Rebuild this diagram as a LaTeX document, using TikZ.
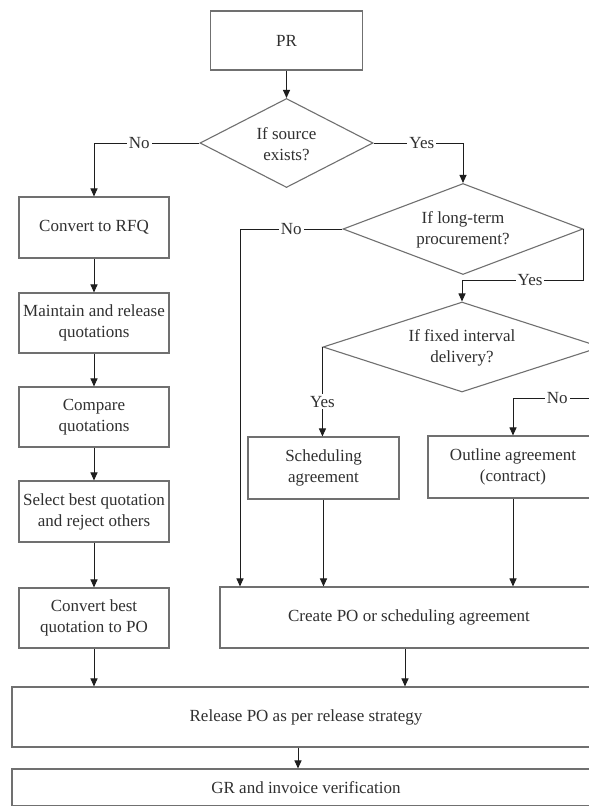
\documentclass[tikz,border=0pt]{standalone}
\usepackage{fontspec}
\setmainfont{Liberation Serif}
\usetikzlibrary{shapes.geometric,arrows.meta}
\definecolor{boxc}{HTML}{707070}
\definecolor{txtc}{HTML}{303030}
\definecolor{linec}{HTML}{1E1E1E}
\tikzset{
  box/.style={draw=boxc, line width=1.1pt, rectangle, inner sep=0pt, align=center, text=txtc,
    font=\fontsize{17}{21}\selectfont},
  dia/.style={draw=boxc, line width=1.1pt, diamond, inner sep=0pt},
  diatext/.style={align=center, text=txtc, font=\fontsize{17}{21}\selectfont, inner sep=0pt},
  arr/.style={draw=linec, line width=1pt, -{Triangle[length=8pt,width=7pt]}},
  lbl/.style={fill=white, text=txtc, inner sep=2pt, font=\fontsize{17}{21}\selectfont}
}
\begin{document}
\begin{tikzpicture}[x=1pt,y=-1pt]
\useasboundingbox (0,0) rectangle (589,806);
\fill[white] (0,0) rectangle (589,806);
% nodes
\node[box, minimum width=152pt, minimum height=59pt] (pr) at (286.5,40.5) {PR};
\node[dia, minimum width=173pt, minimum height=89pt] (d1) at (286.5,143) {};
\node[diatext] (d1t) at (286.5,144) {If source\\exists?};
\node[box, minimum width=150pt, minimum height=61pt] (rfq) at (94,227.5) {Convert to RFQ};
\node[box, minimum width=150pt, minimum height=60pt] (mt) at (94,323) {Maintain and release\\quotations};
\node[box, minimum width=150pt, minimum height=60pt] (cq) at (94,417) {Compare\\quotations};
\node[box, minimum width=150pt, minimum height=61pt] (sb) at (94,511.5) {Select best quotation\\and reject others};
\node[box, minimum width=150pt, minimum height=60pt] (cb) at (94,618) {Convert best\\quotation to PO};
\node[dia, minimum width=240pt, minimum height=91pt] (d2) at (463,229) {};
\node[diatext] (d2t) at (463,230) {If long-term\\procurement?};
\node[dia, minimum width=278pt, minimum height=90pt] (d3) at (462,347) {};
\node[diatext] (d3t) at (462,348) {If fixed interval\\delivery?};
\node[box, minimum width=151pt, minimum height=62pt] (sa) at (323.5,468) {Scheduling\\agreement};
\node[box, minimum width=170pt, minimum height=62pt] (oa) at (513,467) {Outline agreement\\(contract)};
\node[box, minimum width=378pt, minimum height=61pt] (cpo) at (409,617.5) {Create PO or scheduling agreement};
\node[box, minimum width=588pt, minimum height=60pt] (rel) at (306,717) {Release PO as per release strategy};
\node[box, minimum width=588pt, minimum height=37pt] (gr) at (306,787.5) {GR and invoice verification};
% helper coordinates
\coordinate (xno2) at (240,0);
\coordinate (yyes2) at (0,280);
\coordinate (yno3) at (0,398);
\coordinate (xgr) at (298,0);
\coordinate (xcpo) at (405,0);
% connectors
\draw[arr] (pr.south) -- (d1.north);
\draw[arr] (d1.west) -- node[lbl, pos=0.57] {No} (d1.west -| rfq.north) -- (rfq.north);
\draw[arr] (d1.east) -- node[lbl, pos=0.54] {Yes} (d1.east -| d2.north) -- (d2.north);
\draw[arr] (d2.west) -- node[lbl] {No} (d2.west -| xno2) -- (cpo.north -| xno2);
\draw[arr] (d2.east) -- (d2.east |- yyes2) -- node[lbl, pos=0.44] {Yes} (d3.north |- yyes2) -- (d3.north);
\draw[arr] (d3.west) -- node[lbl, pos=0.61] {Yes} (sa.north -| d3.west);
\draw[arr] (d3.east) -- (d3.east |- yno3) -- node[lbl, pos=0.5] {No} (oa.north |- yno3) -- (oa.north);
\draw[arr] (rfq.south) -- (mt.north);
\draw[arr] (mt.south) -- (cq.north);
\draw[arr] (cq.south) -- (sb.north);
\draw[arr] (sb.south) -- (cb.north);
\draw[arr] (sa.south) -- (cpo.north -| sa.south);
\draw[arr] (oa.south) -- (cpo.north -| oa.south);
\draw[arr] (cb.south) -- (rel.north -| cb.south);
\draw[arr] (cpo.south -| xcpo) -- (rel.north -| xcpo);
\draw[arr] (rel.south -| xgr) -- (gr.north -| xgr);
\end{tikzpicture}
\end{document}
